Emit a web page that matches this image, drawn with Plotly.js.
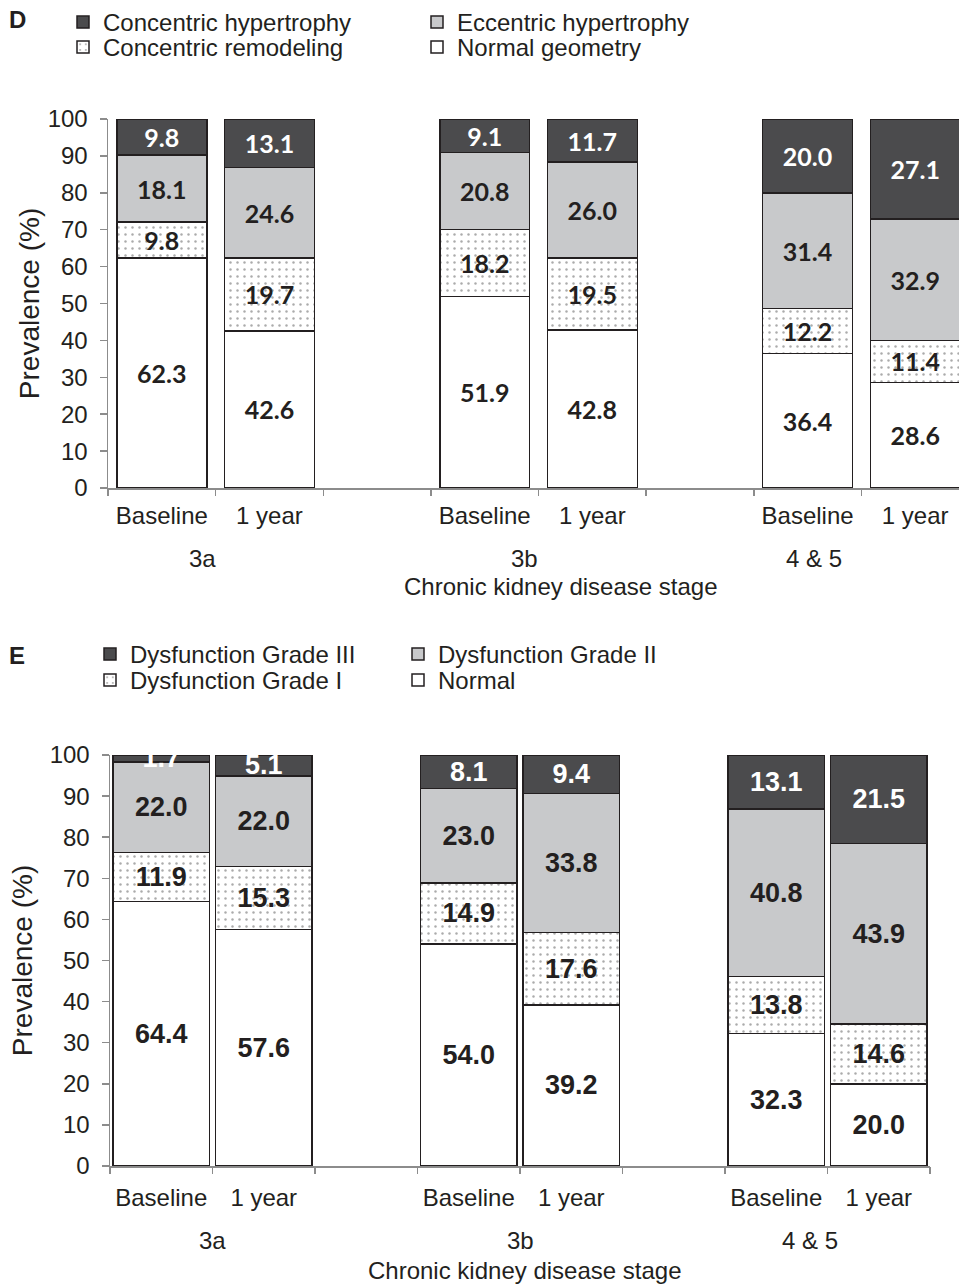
<!DOCTYPE html>
<html>
<head>
<meta charset="utf-8">
<script src="https://cdn.plot.ly/plotly-3.0.1.min.js"></script>
<style>html,body{margin:0;padding:0;background:#fff;}#chart{width:959px;height:1284px;}</style>
</head>
<body>
<div id="chart"></div>
<script>
// ---------- data ----------
const stages = ['3a', '3b', '4 & 5'];
const timepoints = ['Baseline', '1 year'];
const barIds = ['3a|Baseline', '3a|1 year', '3b|Baseline', '3b|1 year', '4 & 5|Baseline', '4 & 5|1 year'];
const axisCategories = ['3a|Baseline', '3a|1 year', 'gap-1', '3b|Baseline', '3b|1 year', 'gap-2', '4 & 5|Baseline', '4 & 5|1 year'];
const tickLabels = ['Baseline', '1 year', '', 'Baseline', '1 year', '', 'Baseline', '1 year'];
const yTickVals = [0, 10, 20, 30, 40, 50, 60, 70, 80, 90, 100];
const xTitle = 'Chronic kidney disease stage';
const yTitle = 'Prevalence (%)';

// Panel D: LV geometry (stack order bottom -> top)
const dNames = ['Normal geometry', 'Concentric remodeling', 'Eccentric hypertrophy', 'Concentric hypertrophy'];
const dNormal = [62.3, 42.6, 51.9, 42.8, 36.4, 28.6];
const dConcRemodeling = [9.8, 19.7, 18.2, 19.5, 12.2, 11.4];
const dEccentric = [18.1, 24.6, 20.8, 26.0, 31.4, 32.9];
const dConcHypertrophy = [9.8, 13.1, 9.1, 11.7, 20.0, 27.1];

// Panel E: diastolic function (stack order bottom -> top)
const eNames = ['Normal', 'Dysfunction Grade I', 'Dysfunction Grade II', 'Dysfunction Grade III'];
const eNormal = [64.4, 57.6, 54.0, 39.2, 32.3, 20.0];
const eGradeI = [11.9, 15.3, 14.9, 17.6, 13.8, 14.6];
const eGradeII = [22.0, 22.0, 23.0, 33.8, 40.8, 43.9];
const eGradeIII = [1.7, 5.1, 8.1, 9.4, 13.1, 21.5];

// ---------- styles ----------
const W = 959, H = 1284;
const ink = '#231f20';
const axisGray = '#8c8c8c';
const fills = ['#ffffff', '#ffffff', '#c8c9cb', '#4b4b4d'];
const textColors = [ink, ink, ink, '#ffffff'];
const legendSlots = [['legend2', 2], ['legend2', 1], ['legend', 2], ['legend', 1]];
const legendSlotsE = [['legend4', 2], ['legend4', 1], ['legend3', 2], ['legend3', 1]];
// category boundaries (in category-index units) for the separator ticks
const boundaryTicks = axisCategories.map((c, i) => i - 0.5).concat([axisCategories.length - 0.5]);

function makeTraces(names, series, xa, ya, slots, labelFont, width) {
  return series.map((vals, i) => {
    const marker = {color: fills[i], line: {color: ink, width: 1.5}};
    if (i === 1) {
      marker.pattern = {shape: '.', fgcolor: '#ababab', bgcolor: '#ffffff', size: 7, solidity: 0.1, fillmode: 'replace'};
    }
    return {
      type: 'bar', name: names[i], x: barIds, y: vals, xaxis: xa, yaxis: ya,
      width: width, marker: marker,
      text: vals.map(v => v.toFixed(1)), textposition: 'inside', insidetextanchor: 'middle',
      textangle: 0, constraintext: 'none',
      insidetextfont: {family: labelFont.family, size: labelFont.size, color: textColors[i], weight: 'bold'},
      legend: slots[i][0], legendrank: slots[i][1], hoverinfo: 'skip'
    };
  });
}

const traces = [].concat(
  makeTraces(dNames, [dNormal, dConcRemodeling, dEccentric, dConcHypertrophy], 'x', 'y', legendSlots, {family: 'Lato, sans-serif', size: 25}, 0.835),
  makeTraces(eNames, [eNormal, eGradeI, eGradeII, eGradeIII], 'x2', 'y2', legendSlotsE, {family: 'Liberation Sans, Arial, sans-serif', size: 27}, 0.94),
  [
    {type: 'scatter', x: [], y: [], xaxis: 'x3', yaxis: 'y', showlegend: false, hoverinfo: 'skip'},
    {type: 'scatter', x: [], y: [], xaxis: 'x4', yaxis: 'y2', showlegend: false, hoverinfo: 'skip'}
  ]
);

const tickFont = {family: 'Liberation Sans, Arial, sans-serif', size: 24, color: ink};

function xAxis(domain, range, anchor, standoff) {
  return {
    domain: domain, range: range, anchor: anchor, type: 'category', categoryorder: 'array', categoryarray: axisCategories,
    tickmode: 'array', tickvals: axisCategories, ticktext: tickLabels, ticks: '',
    showline: true, linecolor: axisGray, linewidth: 1.5, showgrid: false, zeroline: false,
    tickfont: tickFont, ticklabelstandoff: standoff, fixedrange: true
  };
}
function sepAxis(domain, range, over, anchor) {
  return {
    domain: domain, range: range, type: 'linear', overlaying: over, anchor: anchor,
    tickmode: 'array', tickvals: boundaryTicks, ticks: 'outside', ticklen: 7, tickwidth: 1.5, tickcolor: axisGray,
    showticklabels: false, showline: false, showgrid: false, zeroline: false, fixedrange: true
  };
}
function yAxis(domain, anchor, titleStandoff) {
  return {
    domain: domain, range: [0, 100], anchor: anchor, tickmode: 'array', tickvals: yTickVals,
    ticks: 'outside', ticklen: 7, tickwidth: 1.5, tickcolor: axisGray,
    showline: true, linecolor: axisGray, linewidth: 1.5, showgrid: false, zeroline: false,
    tickfont: tickFont, ticklabelstandoff: 7,
    title: {text: yTitle, font: {family: 'Liberation Sans, Arial, sans-serif', size: 28, color: ink}, standoff: titleStandoff},
    fixedrange: true
  };
}

const py = p => 1 - p / H;
const px = p => p / W;

const legendFont = {family: 'Liberation Sans, Arial, sans-serif', size: 24, color: ink};
function legendAt(x, yTop, entrywidth) {
  return {orientation: 'h', x: x, xanchor: 'left', y: yTop, yanchor: 'top', font: legendFont,
    entrywidth: entrywidth, entrywidthmode: 'pixels', traceorder: 'normal', bgcolor: 'rgba(0,0,0,0)',
    borderwidth: 0, itemclick: false, itemdoubleclick: false};
}

const stageAnn = [];
const dStagePos = [0.38, 3.37, 6.06];
const eStagePos = [0.5, 3.5, 6.33];
stages.forEach((s, i) => {
  stageAnn.push({text: s, x: dStagePos[i], xref: 'x', y: py(558), yref: 'paper', showarrow: false,
    xanchor: 'center', yanchor: 'middle', font: tickFont});
  stageAnn.push({text: s, x: eStagePos[i], xref: 'x2', y: py(1240), yref: 'paper', showarrow: false,
    xanchor: 'center', yanchor: 'middle', font: tickFont});
});

const dDomainX = [px(108), 1], eDomainX = [px(110), px(930)];
const dRange = [-0.5, 7.407], eRange = [-0.5, 7.5];

const layout = {
  width: W, height: H, margin: {l: 0, r: 0, t: 0, b: 0},
  paper_bgcolor: '#ffffff', plot_bgcolor: 'rgba(0,0,0,0)',
  barmode: 'stack', showlegend: true,
  font: {family: 'Liberation Sans, Arial, sans-serif', color: ink},
  xaxis: xAxis(dDomainX, dRange, 'y', 6),
  yaxis: yAxis([py(488), py(119)], 'x', 0),
  xaxis2: xAxis(eDomainX, eRange, 'y2', 10),
  yaxis2: yAxis([py(1166), py(755)], 'x2', 9),
  xaxis3: sepAxis(dDomainX, dRange, 'x', 'y'),
  xaxis4: sepAxis(eDomainX, eRange, 'x2', 'y2'),
  legend: legendAt(px(63), 1, 309),
  legend2: legendAt(px(63), py(25), 309),
  legend3: legendAt(px(90), py(632), 263),
  legend4: legendAt(px(90), py(658), 263),
  annotations: stageAnn.concat([
    {text: xTitle, x: px(561), y: py(586), xref: 'paper', yref: 'paper', showarrow: false, xanchor: 'center', yanchor: 'middle', font: tickFont},
    {text: xTitle, x: px(525), y: py(1270), xref: 'paper', yref: 'paper', showarrow: false, xanchor: 'center', yanchor: 'middle', font: tickFont},
    {text: '<b>D</b>', x: px(17), y: py(19), xref: 'paper', yref: 'paper', showarrow: false, xanchor: 'center', yanchor: 'middle', font: {family: 'Liberation Sans, Arial, sans-serif', size: 24, color: ink}},
    {text: '<b>E</b>', x: px(17), y: py(655), xref: 'paper', yref: 'paper', showarrow: false, xanchor: 'center', yanchor: 'middle', font: {family: 'Liberation Sans, Arial, sans-serif', size: 24, color: ink}}
  ])
};

Plotly.newPlot('chart', traces, layout, {displayModeBar: false, staticPlot: true});
</script>
</body>
</html>
